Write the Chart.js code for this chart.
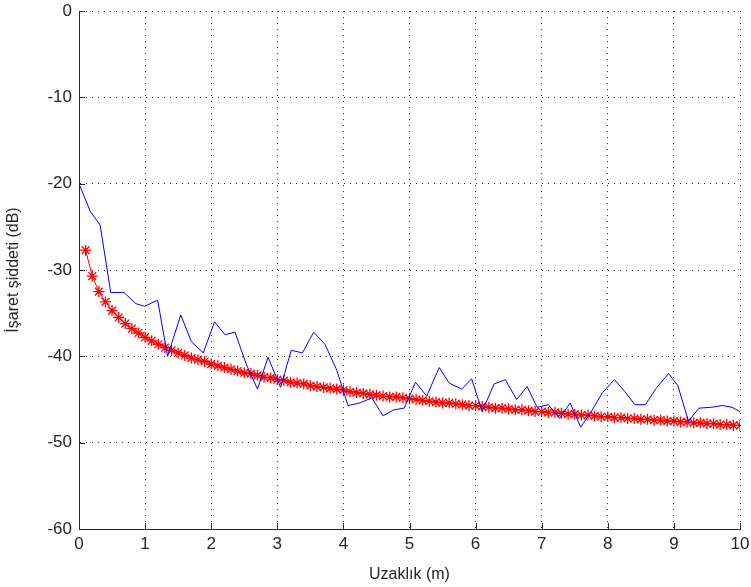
<!DOCTYPE html>
<html>
<head>
<meta charset="UTF-8">
<script src="https://cdn.jsdelivr.net/npm/chart.js@4.4.0/dist/chart.umd.min.js"></script>
<style>
  html, body { margin: 0; padding: 0; background: #fff; }
  #wrap { position: relative; width: 751px; height: 587px; }
</style>
</head>
<body>
<div id="wrap"><canvas id="c"></canvas></div>
<script>
const measX = [0, 0.17, 0.32, 0.48, 0.68, 0.86, 0.99, 1.19, 1.34, 1.54, 1.70, 1.88, 2.05, 2.21, 2.36, 2.53, 2.70, 2.86, 3.05, 3.21,
  3.38, 3.55, 3.72, 3.90, 4.07, 4.25, 4.43, 4.60, 4.76, 4.92, 5.09, 5.26, 5.45, 5.60, 5.79, 5.94, 6.10, 6.28, 6.45, 6.62,
  6.78, 6.93, 7.10, 7.27, 7.43, 7.59, 7.75, 7.92, 8.10, 8.26, 8.41, 8.57, 8.74, 8.92, 9.06, 9.22, 9.38, 9.57, 9.73, 9.88, 10.0];
const measY = [-20.0, -23.2, -24.8, -32.6, -32.6, -33.9, -34.2, -33.5, -40.0, -35.2, -38.3, -39.6, -36.0, -37.5, -37.2, -40.9, -43.8, -40.1, -43.6, -39.3,
  -39.6, -37.2, -38.6, -41.6, -45.7, -45.4, -44.8, -46.9, -46.2, -46.0, -43.0, -44.6, -41.3, -43.1, -43.8, -42.6, -46.4, -43.2, -42.7, -45.0,
  -43.5, -45.9, -45.6, -47.2, -45.4, -48.2, -46.4, -44.2, -42.7, -44.1, -45.6, -45.6, -43.6, -42.0, -43.4, -47.5, -46.0, -45.9, -45.7, -45.9, -46.4];

// model curve (red stars), one marker every 0.1 m
const modelX = [0.1, 0.2, 0.3, 0.4, 0.5, 0.6, 0.7, 0.8, 0.9, 1.0, 1.1, 1.2, 1.3, 1.4, 1.5, 1.6, 1.7, 1.8, 1.9, 2.0,
  2.1, 2.2, 2.3, 2.4, 2.5, 2.6, 2.7, 2.8, 2.9, 3.0, 3.1, 3.2, 3.3, 3.4, 3.5, 3.6, 3.7, 3.8, 3.9, 4.0,
  4.1, 4.2, 4.3, 4.4, 4.5, 4.6, 4.7, 4.8, 4.9, 5.0, 5.1, 5.2, 5.3, 5.4, 5.5, 5.6, 5.7, 5.8, 5.9, 6.0,
  6.1, 6.2, 6.3, 6.4, 6.5, 6.6, 6.7, 6.8, 6.9, 7.0, 7.1, 7.2, 7.3, 7.4, 7.5, 7.6, 7.7, 7.8, 7.9, 8.0,
  8.1, 8.2, 8.3, 8.4, 8.5, 8.6, 8.7, 8.8, 8.9, 9.0, 9.1, 9.2, 9.3, 9.4, 9.5, 9.6, 9.7, 9.8, 9.9, 10.0];
const modelY = [-27.7, -30.7, -32.5, -33.7, -34.7, -35.5, -36.2, -36.8, -37.3, -37.8, -38.2, -38.6, -39.0, -39.3, -39.6, -39.9, -40.2, -40.4, -40.6, -40.9,
  -41.1, -41.3, -41.5, -41.7, -41.9, -42.0, -42.2, -42.4, -42.5, -42.7, -42.8, -43.0, -43.1, -43.2, -43.4, -43.5, -43.6, -43.7, -43.8, -43.9,
  -44.1, -44.2, -44.3, -44.4, -44.5, -44.6, -44.7, -44.7, -44.8, -44.9, -45.0, -45.1, -45.2, -45.3, -45.4, -45.4, -45.5, -45.6, -45.7, -45.7,
  -45.8, -45.9, -46.0, -46.0, -46.1, -46.2, -46.2, -46.3, -46.4, -46.4, -46.5, -46.5, -46.6, -46.7, -46.7, -46.8, -46.8, -46.9, -47.0, -47.0,
  -47.1, -47.1, -47.2, -47.2, -47.3, -47.3, -47.4, -47.4, -47.5, -47.5, -47.6, -47.6, -47.7, -47.7, -47.8, -47.8, -47.9, -47.9, -48.0, -48.0];

const xLabel = 'Uzaklık (m)';
const yLabel = 'İşaret şiddeti (dB)';

const FONT = '"Liberation Sans Narrow", "Liberation Sans", Arial, sans-serif';
const INK = '#262626';

// matlab-style ticks pointing into the plot area
const inwardTicks = {
  id: 'inwardTicks',
  afterDatasetsDraw(chart) {
    const ctx = chart.ctx, a = chart.chartArea;
    const xs = chart.scales.x, ys = chart.scales.y;
    ctx.save();
    ctx.strokeStyle = INK;
    ctx.lineWidth = 1;
    ctx.beginPath();
    xs.ticks.forEach(t => {
      const px = Math.round(xs.getPixelForValue(t.value)) + 0.5;
      ctx.moveTo(px, a.bottom);
      ctx.lineTo(px, a.bottom - 6);
    });
    ys.ticks.forEach(t => {
      const py = Math.round(ys.getPixelForValue(t.value)) + 0.5;
      ctx.moveTo(a.left, py);
      ctx.lineTo(a.left + 6, py);
    });
    ctx.stroke();
    ctx.restore();
  }
};

new Chart(document.getElementById('c'), {
  type: 'scatter',
  data: {
    datasets: [
      {
        data: measX.map((x, i) => ({ x: x, y: measY[i] })),
        showLine: true,
        borderColor: '#0000ff',
        borderWidth: 1,
        pointRadius: 0,
        tension: 0
      },
      {
        data: modelX.map((x, i) => ({ x: x, y: modelY[i] })),
        showLine: true,
        borderColor: '#ff0000',
        borderWidth: 1,
        pointStyle: 'star',
        pointRadius: 5.5,
        pointBorderColor: '#ff0000',
        pointBackgroundColor: '#ff0000',
        pointBorderWidth: 1.3,
        tension: 0
      }
    ]
  },
  options: {
    responsive: true,
    maintainAspectRatio: false,
    animation: false,
    layout: { padding: { left: 0, right: 11, top: 11, bottom: 0 } },
    plugins: { legend: { display: false }, tooltip: { enabled: false } },
    scales: {
      x: {
        type: 'linear',
        min: 0, max: 10,
        afterFit(s) { s.height = 58; s.paddingLeft = 0; s.paddingRight = 0; },
        ticks: { stepSize: 1, color: INK, font: { family: FONT, size: 17 }, padding: 5, maxRotation: 0 },
        grid: { color: '#333', lineWidth: 1, drawTicks: false },
        border: { display: true, color: INK, width: 1, dash: [1, 5] },
        title: { display: true, text: xLabel, color: INK, font: { family: FONT, size: 16 }, padding: { top: 0, bottom: 3 } }
      },
      y: {
        min: -60, max: 0,
        afterFit(s) { s.width = 79; s.paddingTop = 0; s.paddingBottom = 0; },
        ticks: { stepSize: 10, color: INK, font: { family: FONT, size: 17 }, padding: 7 },
        grid: { color: '#333', lineWidth: 1, drawTicks: false },
        border: { display: true, color: INK, width: 1, dash: [1, 5] },
        title: { display: true, text: yLabel, color: INK, font: { family: FONT, size: 16 }, padding: { top: 4, bottom: 0 } }
      }
    }
  },
  plugins: [inwardTicks]
});
</script>
</body>
</html>
